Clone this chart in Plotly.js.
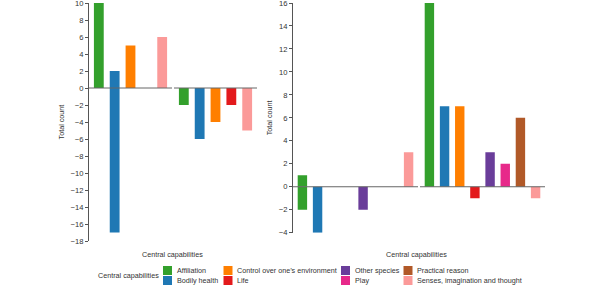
<!DOCTYPE html>
<html><head><meta charset="utf-8">
<script src="https://cdn.plot.ly/plotly-3.0.1.min.js"></script>
<style>html,body{margin:0;padding:0;background:#fff}#chart{width:600px;height:300px}</style>
</head><body><div id="chart"></div>
<script>
const categories = ['Affiliation', 'Bodily health', 'Control over one\u2019s environment', 'Life', 'Other species', 'Play', 'Practical reason', 'Senses, imagination and thought'];
const colors = ['#33a02c', '#1f78b4', '#ff7f00', '#e31a1c', '#6a3d9a', '#e7298a', '#b15928', '#fb9a99'];

const leftCategories = ['Affiliation', 'Bodily health', 'Control over one\u2019s environment', 'Life', 'Senses, imagination and thought'];
const leftFirstPositive = [10, 2, 5, null, 6];
const leftFirstNegative = [null, -17, null, null, null];
const leftSecondPositive = [null, null, null, null, null];
const leftSecondNegative = [-2, -6, -4, -2, -5];

const rightCategories = categories;
const rightFirstPositive = [1, null, null, null, null, null, null, 3];
const rightFirstNegative = [-2, -4, null, null, -2, null, null, null];
const rightSecondPositive = [16, 7, 7, null, 3, 2, 6, null];
const rightSecondNegative = [null, null, null, -1, null, null, null, -1];

const axisTitle = 'Central capabilities';
const yTitle = 'Total count';

const panels = [
  {cats: leftCategories, pos: leftFirstPositive, neg: leftFirstNegative, xa: 'x', ya: 'y'},
  {cats: leftCategories, pos: leftSecondPositive, neg: leftSecondNegative, xa: 'x2', ya: 'y'},
  {cats: rightCategories, pos: rightFirstPositive, neg: rightFirstNegative, xa: 'x3', ya: 'y2'},
  {cats: rightCategories, pos: rightSecondPositive, neg: rightSecondNegative, xa: 'x4', ya: 'y2'}
];

const traces = [];
panels.forEach(p => {
  p.cats.forEach((c, i) => {
    const col = colors[categories.indexOf(c)];
    [p.pos[i], p.neg[i]].forEach(v => {
      if (v === null) return;
      traces.push({type: 'bar', x: [c], y: [v], xaxis: p.xa, yaxis: p.ya, name: c,
        marker: {color: col, line: {width: 0}}, showlegend: false, hoverinfo: 'x+y'});
    });
  });
});

const TXT = '#333';
const FS = 7.2;
const font = {family: '"Liberation Sans", Arial, sans-serif', size: FS, color: TXT};
const W = 600, H = 300;
function hidX(dom, n, anchor) {
  return {domain: [dom[0] / W, dom[1] / W], anchor: anchor, type: 'category',
    categoryorder: 'array', categoryarray: n, range: [-0.62, n.length - 0.38],
    showline: false, showticklabels: false, ticks: '', showgrid: false, zeroline: false, fixedrange: true};
}
function yAx(range, top, bottom, anchor) {
  return {domain: [1 - bottom / H, 1 - top / H], range: range, anchor: anchor, dtick: 2,
    showline: true, linecolor: '#555', linewidth: 1, ticks: 'outside', ticklen: 3, tickcolor: '#555',
    tickfont: {size: 7.6, color: TXT}, ticklabeloverflow: 'allow', showgrid: false, zeroline: false,
    title: {text: yTitle, font: {size: FS, color: TXT}, standoff: 5}};
}

const shapes = ['x', 'x2', 'x3', 'x4'].map((xa, k) => ({type: 'line', xref: xa + ' domain', yref: k < 2 ? 'y' : 'y2',
  x0: 0, x1: 1, y0: 0, y1: 0, line: {color: '#666', width: 1}}));

function ann(text, x, y, xanchor) {
  return {text: text, x: x / W, y: 1 - y / H, xref: 'paper', yref: 'paper', xanchor: xanchor, yanchor: 'middle',
    showarrow: false, font: {size: FS, color: TXT}};
}
const annotations = [
  ann(axisTitle, 172, 254, 'center'),
  ann(axisTitle, 417, 254, 'center'),
  ann(axisTitle, 161, 275.5, 'right')
];
const swatchX = [163, 223.5, 341, 403.5];
const rowY = [270.5, 280.5];
categories.forEach((c, i) => {
  const sx = swatchX[Math.floor(i / 2)], sy = rowY[i % 2];
  shapes.push({type: 'rect', xref: 'paper', yref: 'paper', x0: sx / W, x1: (sx + 9) / W,
    y0: 1 - (sy + 4.5) / H, y1: 1 - (sy - 4.5) / H, fillcolor: colors[i], line: {width: 0}});
  annotations.push(ann(c, sx + 11.5, sy, 'left'));
});

const layout = {
  width: W, height: H, margin: {l: 0, r: 0, t: 0, b: 0}, paper_bgcolor: '#fff', plot_bgcolor: 'rgba(0,0,0,0)',
  font: font, barmode: 'relative', bargap: 0.38, showlegend: false,
  xaxis: hidX([89, 172], leftCategories, 'y'),
  xaxis2: hidX([174, 257], leftCategories, 'y'),
  xaxis3: hidX([293, 418], rightCategories, 'y2'),
  xaxis4: hidX([420, 545], rightCategories, 'y2'),
  yaxis: yAx([-18, 10], 3, 241, 'x'),
  yaxis2: yAx([-4, 16], 3, 232.7, 'x3'),
  shapes: shapes, annotations: annotations
};
Plotly.newPlot('chart', traces, layout, {displayModeBar: false, staticPlot: true});
</script></body></html>
